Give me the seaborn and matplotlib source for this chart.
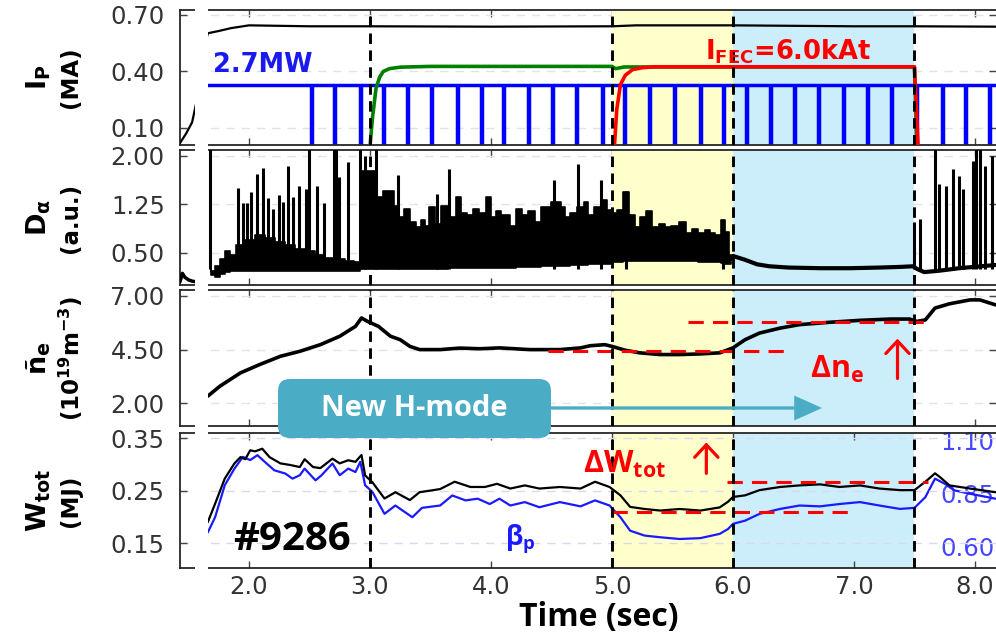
import numpy as np
import pandas as pd
import matplotlib
matplotlib.use("Agg")
import matplotlib.pyplot as plt
import seaborn as sns
from matplotlib.patches import Rectangle, FancyBboxPatch, FancyArrowPatch
from matplotlib.transforms import IdentityTransform

# ---------------- data ----------------
phase_lines = [3.0, 5.0, 6.0, 7.5]
fec_span = [5.0, 6.0]
hmode_span = [6.0, 7.5]

# Panel 1: plasma current, heating power trace, FEC current
ip_t = [1.43, 1.48, 1.53, 1.57, 1.62, 1.66, 1.75, 1.85, 2.00, 2.50, 3.00, 4.00, 5.00, 5.20, 6.00, 7.00, 7.50, 8.17]
ip_v = [0.02, 0.07, 0.13, 0.25, 0.50, 0.603, 0.615, 0.630, 0.645, 0.640, 0.640, 0.638, 0.640, 0.645, 0.645, 0.640, 0.640, 0.638]

green_t = [1.66, 3.00, 3.02, 3.05, 3.08, 3.11, 3.16, 3.25, 3.50, 5.00, 5.03, 5.10, 7.50, 7.52, 8.17]
green_v = [0.0, 0.0, 0.15, 0.31, 0.37, 0.40, 0.415, 0.423, 0.427, 0.427, 0.415, 0.424, 0.424, 0.0, 0.0]

fec_t = [1.66, 5.02, 5.04, 5.07, 5.11, 5.17, 5.25, 5.35, 7.50, 7.53, 8.17]
fec_v = [0.0, 0.0, 0.20, 0.33, 0.38, 0.41, 0.42, 0.425, 0.425, 0.0, 0.0]

nbi_level = 0.328
nbi_start, nbi_end = 1.66, 8.17
nbi_notch_t = [2.52, 2.71, 2.92, 3.11, 3.31, 3.51, 3.72, 3.92, 4.10, 4.31, 4.51, 4.71, 4.92,
               5.10, 5.31, 5.52, 5.73, 5.92, 6.11, 6.31, 6.51, 6.71, 6.91, 7.11, 7.31, 7.52,
               7.73, 7.92, 8.12]

# Panel 2: D-alpha
da_left_t = [1.43, 1.45, 1.47, 1.50, 1.53, 1.56]
da_left_v = [0.05, 0.18, 0.12, 0.08, 0.06, 0.05]

dense_t = [1.68, 1.70, 1.74, 1.78, 1.82, 1.86, 1.93, 2.01, 2.09, 2.17, 2.26, 2.34, 2.42, 2.50,
           2.59, 2.67, 2.75, 2.83, 2.90,
           2.93, 2.98, 3.02, 3.08, 3.14, 3.18, 3.21, 3.26, 3.31, 3.36, 3.40, 3.44, 3.47, 3.51,
           3.57, 3.60, 3.69, 3.74, 3.77, 3.83, 3.88, 3.93, 3.98, 4.02, 4.06, 4.10, 4.14, 4.18,
           4.24, 4.28, 4.34, 4.38, 4.45, 4.55, 4.60, 4.63, 4.68, 4.75, 4.79, 4.82, 4.88, 4.94,
           4.98, 5.02, 5.07, 5.11, 5.17, 5.21, 5.26, 5.31, 5.36, 5.42, 5.46, 5.52, 5.59, 5.63,
           5.69, 5.74, 5.79, 5.83, 5.88, 5.92, 5.95, 5.98]
dense_hi = [0.30, 0.22, 0.30, 0.40, 0.52, 0.46, 0.62, 0.70, 0.78, 0.72, 0.66, 0.62, 0.56, 0.52,
            0.46, 0.42, 0.40, 0.37, 0.36,
            1.77, 1.77, 1.77, 1.36, 1.46, 1.46, 1.23, 1.06, 1.18, 0.98, 0.90, 1.00, 0.92, 1.21,
            0.95, 1.22, 1.06, 1.36, 1.11, 1.08, 1.18, 1.11, 1.36, 1.06, 1.14, 1.08, 1.08, 0.92,
            1.18, 1.08, 1.14, 0.98, 1.21, 1.28, 1.21, 1.06, 1.11, 1.21, 1.28, 1.08, 1.21, 1.31,
            1.16, 1.11, 1.16, 1.44, 1.08, 0.90, 1.06, 1.14, 0.90, 0.95, 0.90, 0.92, 0.98, 0.80,
            0.87, 0.80, 0.85, 0.80, 0.77, 1.00, 0.82, 0.47]
dense_lo = [0.30, 0.15, 0.12, 0.17, 0.20, 0.21, 0.21, 0.22, 0.22, 0.22, 0.21, 0.21, 0.21, 0.21,
            0.22, 0.22, 0.22, 0.22, 0.22,
            0.24, 0.25, 0.25, 0.25, 0.25, 0.25, 0.25, 0.25, 0.25, 0.25, 0.25, 0.25, 0.25, 0.25,
            0.25, 0.25, 0.26, 0.26, 0.26, 0.26, 0.26, 0.26, 0.26, 0.26, 0.27, 0.27, 0.27, 0.27,
            0.28, 0.28, 0.28, 0.28, 0.29, 0.30, 0.30, 0.30, 0.31, 0.31, 0.31, 0.32, 0.32, 0.32,
            0.33, 0.35, 0.36, 0.37, 0.37, 0.37, 0.37, 0.37, 0.37, 0.37, 0.37, 0.37, 0.37, 0.37,
            0.37, 0.36, 0.36, 0.35, 0.35, 0.34, 0.33, 0.33]

spike_t = [1.675, 1.91, 1.95, 1.98, 2.02, 2.07, 2.12, 2.16, 2.20, 2.25, 2.28, 2.32, 2.36, 2.41,
           2.47, 2.50, 2.56, 2.62, 2.70, 2.72, 2.74, 2.82, 2.92, 2.96,
           3.05, 3.23, 3.55, 3.65, 4.52, 4.72, 4.91, 5.12, 5.92,
           7.50, 7.55, 7.67, 7.70, 7.76, 7.82, 7.87, 7.90, 7.98, 8.01, 8.04, 8.08, 8.14]
spike_v = [2.20, 1.50, 1.27, 1.27, 1.44, 1.72, 1.81, 1.34, 1.18, 1.40, 1.28, 1.84, 1.36, 1.53,
           1.49, 2.20, 1.53, 1.27, 2.20, 2.20, 1.67, 1.90, 2.20, 2.00,
           2.20, 1.70, 1.41, 1.79, 1.62, 1.87, 1.62, 1.46, 1.00,
           0.98, 1.02, 2.20, 1.57, 1.53, 1.79, 1.69, 1.49, 1.92, 2.20, 2.20, 1.85, 2.00]

da_line_t = [5.98, 6.00, 6.10, 6.20, 6.30, 6.46, 6.72, 6.97, 7.21, 7.38, 7.49, 7.52, 7.58, 7.70, 7.87, 8.17]
da_line_v = [0.40, 0.45, 0.39, 0.32, 0.29, 0.27, 0.26, 0.26, 0.27, 0.28, 0.29, 0.25, 0.20, 0.22, 0.26, 0.31]

# Panel 3: line-averaged density
ne_t = [1.66, 1.76, 1.93, 2.09, 2.26, 2.42, 2.59, 2.75, 2.88, 2.93, 2.98, 3.07, 3.17, 3.25, 3.33,
        3.41, 3.58, 3.74, 3.91, 4.07, 4.32, 4.57, 4.74, 4.82, 4.94, 5.00, 5.11, 5.23, 5.40, 5.56,
        5.73, 5.89, 6.00, 6.10, 6.22, 6.39, 6.55, 6.80, 7.05, 7.30, 7.46, 7.52, 7.59, 7.67, 7.79,
        7.96, 8.04, 8.17]
ne_v = [2.34, 2.80, 3.42, 3.81, 4.19, 4.42, 4.73, 5.12, 5.58, 5.97, 5.81, 5.58, 5.12, 4.96, 4.65,
        4.50, 4.50, 4.57, 4.54, 4.58, 4.50, 4.50, 4.58, 4.68, 4.73, 4.65, 4.47, 4.35, 4.27, 4.27,
        4.30, 4.35, 4.58, 4.96, 5.27, 5.50, 5.66, 5.77, 5.86, 5.92, 5.92, 5.81, 5.88, 6.43, 6.63,
        6.81, 6.81, 6.58]
ne_ref_level = [4.42, 5.77]
ne_ref_from = [4.47, 5.63]
ne_ref_to = [6.47, 7.61]

# Panel 4: stored energy and poloidal beta
w_t = [1.66, 1.72, 1.80, 1.88, 1.93, 1.97, 2.01, 2.05, 2.11, 2.17, 2.26, 2.34, 2.42, 2.46, 2.53,
       2.59, 2.69, 2.75, 2.82, 2.88, 2.93, 2.96, 3.02, 3.12, 3.21, 3.33, 3.41, 3.58, 3.70, 3.83,
       3.95, 4.05, 4.16, 4.28, 4.40, 4.57, 4.74, 4.86, 4.98, 5.07, 5.15, 5.27, 5.40, 5.56, 5.73,
       5.89, 5.96, 6.00, 6.10, 6.22, 6.39, 6.55, 6.72, 6.88, 7.05, 7.21, 7.38, 7.50, 7.59, 7.67,
       7.71, 7.79, 7.96, 8.17]
w_v = [0.190, 0.225, 0.273, 0.302, 0.314, 0.310, 0.327, 0.325, 0.330, 0.314, 0.302, 0.299, 0.295,
       0.310, 0.295, 0.293, 0.311, 0.302, 0.308, 0.305, 0.318, 0.279, 0.266, 0.235, 0.247, 0.232,
       0.247, 0.253, 0.267, 0.257, 0.257, 0.263, 0.254, 0.260, 0.254, 0.257, 0.254, 0.267, 0.257,
       0.241, 0.219, 0.215, 0.212, 0.215, 0.212, 0.218, 0.229, 0.238, 0.241, 0.251, 0.257, 0.260,
       0.262, 0.257, 0.260, 0.254, 0.251, 0.251, 0.267, 0.283, 0.276, 0.260, 0.254, 0.247]
bp_t = [1.66, 1.72, 1.80, 1.88, 1.95, 2.01, 2.07, 2.13, 2.21, 2.30, 2.36, 2.42, 2.46, 2.55, 2.60,
        2.69, 2.75, 2.82, 2.88, 2.92, 2.96, 3.02, 3.12, 3.21, 3.35, 3.43, 3.58, 3.68, 3.79, 3.89,
        3.99, 4.07, 4.16, 4.28, 4.40, 4.57, 4.74, 4.86, 4.98, 5.07, 5.15, 5.27, 5.40, 5.56, 5.73,
        5.89, 5.96, 6.00, 6.10, 6.22, 6.39, 6.55, 6.72, 6.88, 7.05, 7.21, 7.38, 7.50, 7.59, 7.67,
        7.75, 7.83, 7.96, 8.17]
bp_v = [0.667, 0.738, 0.888, 0.966, 1.021, 1.006, 1.029, 0.998, 0.958, 0.943, 0.919, 0.935, 0.966,
        0.911, 0.935, 0.990, 0.935, 0.966, 0.950, 0.998, 0.888, 0.857, 0.754, 0.793, 0.738, 0.782,
        0.793, 0.840, 0.817, 0.825, 0.800, 0.825, 0.793, 0.809, 0.785, 0.809, 0.789, 0.817, 0.793,
        0.738, 0.675, 0.652, 0.644, 0.636, 0.640, 0.660, 0.683, 0.707, 0.722, 0.754, 0.777, 0.793,
        0.789, 0.800, 0.809, 0.793, 0.777, 0.782, 0.832, 0.919, 0.895, 0.864, 0.848, 0.825]
w_ref_level = [0.21, 0.267]
w_ref_from = [5.00, 5.95]
w_ref_to = [7.01, 7.61]

xticks = [2.0, 3.0, 4.0, 5.0, 6.0, 7.0, 8.0]
yticks = [[0.10, 0.40, 0.70], [0.50, 1.25, 2.00], [2.00, 4.50, 7.00], [0.15, 0.25, 0.35]]
bp_ticks = [0.60, 0.85, 1.10]

# ---------------- style ----------------
sns.set_theme(style="ticks")
plt.rcParams["font.family"] = ["DejaVu Sans"]
plt.rcParams["mathtext.fontset"] = "dejavusans"
plt.rcParams["mathtext.rm"] = "Open Sans"
plt.rcParams["mathtext.bf"] = "Open Sans:bold"
plt.rcParams["mathtext.it"] = "Open Sans:italic"

W_PX, H_PX = 996, 635
fig = plt.figure(figsize=(W_PX / 100, H_PX / 100), dpi=100)
fig.patch.set_facecolor("white")


def fx(x):
    return x / W_PX


def fy(y):
    return 1 - y / H_PX


panels_px = [(10, 145), (150, 285), (290, 426), (433, 568)]
ylims = [(0.0097, 0.7265), (0.0, 2.09), (0.95, 7.27), (0.1024, 0.360)]
L_PX = 180
axes = []
for (top, bot) in panels_px:
    ax = fig.add_axes([fx(L_PX), fy(bot), (W_PX - L_PX) / W_PX, (bot - top) / H_PX])
    axes.append(ax)

ax1, ax2, ax3, ax4 = axes
ax4b = ax4.twinx()
ax4b.set_zorder(ax4.get_zorder() - 1)
ax4.patch.set_visible(False)

YELLOW = "#FFFFCC"
LBLUE = "#CCEEFA"
TEAL = "#4BACC6"

for i, ax in enumerate(axes):
    ax.set_xlim(1.43, 8.174)
    ax.set_ylim(*ylims[i])
    ax.set_yticks(yticks[i])
    ax.set_yticklabels([f"{v:.2f}" for v in yticks[i]])
    ax.set_xticks(xticks)
    ax.set_xticklabels([f"{v:.1f}" for v in xticks])
    ax.tick_params(axis="both", direction="in", length=5, width=1, color="#444444",
                   labelcolor="#333333", labelsize=17.5, top=True, bottom=True,
                   left=True, right=(i < 3))
    ax.tick_params(axis="y", pad=11)
    ax.tick_params(axis="x", pad=5, labelbottom=(i == 3))
    for s in ["left", "top", "bottom"]:
        ax.spines[s].set_color("#262626")
        ax.spines[s].set_linewidth(1.3)
    ax.spines["right"].set_visible(False)
    ax.set_axisbelow(True)
    ax.grid(axis="y", color="#e2e2ee" if i < 3 else "#d8d8f2", lw=1.0, ls=(0, (6, 5)))
    ax.grid(axis="x", visible=False)
    for t in phase_lines:
        ax.axvline(t, color="black", lw=2.1, ls=(0, (3.6, 2.2)), zorder=6)
    if i < 3:
        ax.axvspan(*fec_span, color=YELLOW, lw=0, zorder=1)
        ax.axvspan(*hmode_span, color=LBLUE, lw=0, zorder=1)

# bottom panel shading / twin axis
ax4b.set_ylim(0.50, 1.133)
ax4b.set_yticks(bp_ticks)
ax4b.set_yticklabels([f"{v:.2f}" for v in bp_ticks])
ax4b.tick_params(axis="y", direction="in", length=0, pad=-40, labelsize=17.5, labelcolor="#4646ff")
for s in ax4b.spines.values():
    s.set_visible(False)
ax4b.yaxis.set_zorder(1.5)
ax4b.axvspan(*fec_span, color=YELLOW, lw=0, zorder=1)
ax4b.axvspan(*hmode_span, color=LBLUE, lw=0, zorder=1)
ax4b.grid(False)

# ---------------- panel 1 ----------------
nb_t = [nbi_start]
nb_v = [nbi_level]
for tn in nbi_notch_t:
    nb_t += [tn - 0.004, tn - 0.004, tn + 0.004, tn + 0.004]
    nb_v += [nbi_level, 0.0, 0.0, nbi_level]
nb_t.append(nbi_end)
nb_v.append(nbi_level)
sns.lineplot(x=nb_t, y=nb_v, ax=ax1, color="#0000ff", lw=2.5, estimator=None, sort=False, zorder=2)
sns.lineplot(x=green_t, y=green_v, ax=ax1, color="#008000", lw=2.6, estimator=None, sort=False, zorder=3)
sns.lineplot(x=fec_t, y=fec_v, ax=ax1, color="#ff0000", lw=2.6, estimator=None, sort=False, zorder=4)
sns.lineplot(x=ip_t, y=ip_v, ax=ax1, color="black", lw=1.6, estimator=None, sort=False, zorder=4)

# ---------------- panel 2 ----------------
ax2.fill_between(dense_t, dense_lo, dense_hi, step="mid", color="black", lw=1.2, zorder=3)
ax2.vlines(spike_t, 0.24, spike_v, color="black", lw=2.2, zorder=3)
sns.lineplot(x=da_line_t, y=da_line_v, ax=ax2, color="black", lw=3.0, estimator=None, sort=False, zorder=3)
sns.lineplot(x=da_left_t, y=da_left_v, ax=ax2, color="black", lw=2.5, estimator=None, sort=False, zorder=3)

# ---------------- panel 3 ----------------
sns.lineplot(x=ne_t, y=ne_v, ax=ax3, color="black", lw=2.6, estimator=None, sort=False, zorder=3)
ax3.hlines(ne_ref_level, ne_ref_from, ne_ref_to, color="#ff0000", lw=2.2, ls=(0, (5, 3)), zorder=5)

# ---------------- panel 4 ----------------
sns.lineplot(x=bp_t, y=bp_v, ax=ax4b, color="#1a1aff", lw=1.6, estimator=None, sort=False, zorder=2)
sns.lineplot(x=w_t, y=w_v, ax=ax4, color="black", lw=1.6, estimator=None, sort=False, zorder=3)
ax4.hlines(w_ref_level, w_ref_from, w_ref_to, color="#ff0000", lw=2.2, ls=(0, (5, 3)), zorder=5)
for a in (ax1, ax2, ax3, ax4, ax4b):
    a.set_xlabel("")
    a.set_ylabel("")
    leg = a.get_legend()
    if leg:
        leg.remove()

# white strip hiding the early part of the traces
fig.add_artist(Rectangle((fx(195), fy(572)), 13 / W_PX, 566 / H_PX, transform=fig.transFigure,
                         facecolor="white", edgecolor="none", zorder=20))

# ---------------- y labels ----------------
ylab1 = [r"I$_{\mathbf{P}}$", r"D$_{\mathbf{\alpha}}$", r"ñ$_{\mathbf{e}}$", r"W$_{\mathbf{tot}}$"]
ylab2 = ["(MA)", "(a.u.)", r"(10$^{\mathbf{19}}$m$^{\mathbf{-3}}$)", "(MJ)"]
for (top, bot), l1, l2 in zip(panels_px, ylab1, ylab2):
    yc = (top + bot) / 2
    fig.text(fx(39), fy(yc), l1, rotation=90, ha="center", va="center", fontsize=19.5,
             fontweight="bold", color="black", math_fontfamily="dejavusans")
    fig.text(fx(71), fy(yc), l2, rotation=90, ha="center", va="center", fontsize=16.5,
             fontweight="bold", color="black", math_fontfamily="dejavusans")

# ---------------- annotations ----------------
fig.text(fx(213), fy(72), "2.7MW", color="#1a1aee", fontsize=18.5, fontweight="bold",
         va="baseline", ha="left", zorder=21)
fig.text(fx(705), fy(59), r"I$_{\mathbf{FEC}}$=6.0kAt", color="#ff0000", fontsize=18.5,
         fontweight="bold", va="baseline", ha="left", math_fontfamily="dejavusans", zorder=21)

fig.text(fx(233), fy(550), "#9286", color="black", fontsize=29, fontweight="bold",
         family="Open Sans", va="baseline", ha="left", zorder=21)
fig.text(fx(505), fy(545), r"β$_{\mathbf{p}}$", color="#1a1aff", fontsize=19, fontweight="bold",
         family="Open Sans", va="baseline", ha="left", math_fontfamily="custom", zorder=21)
fig.text(fx(583), fy(473), r"ΔW$_{\mathbf{tot}}$", color="#ff0000", fontsize=22,
         fontweight="bold", family="Open Sans", va="baseline", ha="left",
         math_fontfamily="custom", zorder=21)
fig.text(fx(810), fy(378), r"Δn$_{\mathbf{e}}$", color="#ff0000", fontsize=22,
         fontweight="bold", family="Open Sans", va="baseline", ha="left",
         math_fontfamily="custom", zorder=21)

arrow_kw = dict(arrowstyle="->,head_length=0.45,head_width=0.42", color="#ff0000", lw=2.3,
                mutation_scale=20, shrinkA=0, shrinkB=0)
ax3.annotate("", xy=(7.36, 5.01), xytext=(7.36, 3.16), arrowprops=arrow_kw,
             annotation_clip=False, zorder=8)
ax4.annotate("", xy=(5.78, 0.342), xytext=(5.78, 0.283), arrowprops=arrow_kw,
             annotation_clip=False, zorder=8)

# New H-mode box and arrow
fig.add_artist(FancyBboxPatch((278, H_PX - 438), 273, 59, boxstyle="round,pad=0,rounding_size=12",
                              transform=IdentityTransform(), facecolor=TEAL, edgecolor="none",
                              zorder=22))
fig.text(fx(414.5), fy(409), "New H-mode", color="white", fontsize=21, fontweight="bold",
         family="Open Sans", ha="center", va="center", zorder=23)
fig.add_artist(FancyArrowPatch((fx(549), fy(408)), (fx(822), fy(408)),
                               transform=fig.transFigure,
                               arrowstyle="simple,head_length=1.0,head_width=0.9,tail_width=0.12",
                               mutation_scale=20, color=TEAL, lw=0, shrinkA=0, shrinkB=0,
                               zorder=22))

fig.text(fx(599), fy(626), "Time (sec)", color="black", fontsize=23, fontweight="bold",
         family="Open Sans", ha="center", va="baseline", zorder=21)

fig.savefig("out.png", dpi=100, facecolor="white")
